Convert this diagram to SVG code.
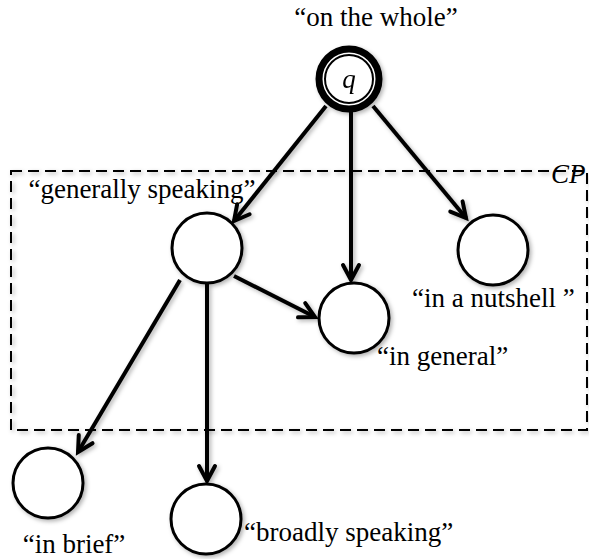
<svg xmlns="http://www.w3.org/2000/svg" width="589" height="559" viewBox="0 0 589 559">
  <style>
    text { font-family: 'Liberation Serif', 'Times New Roman', serif; }
    .lbl { font-size: 27px; fill: #000; }
    .node { fill: #fff; stroke: #000; stroke-width: 3; }
    .edge { fill: none; stroke: #000; stroke-width: 4; marker-end: url(#arrow); }
    .frame { fill: none; stroke: #000; stroke-width: 2; stroke-dasharray: 11 6; }
  </style>
  <defs>
    <filter id="shadow" x="-30%" y="-30%" width="160%" height="160%">
      <feDropShadow dx="2" dy="2" stdDeviation="2" flood-color="#000" flood-opacity="0.3"/>
    </filter>
    <marker id="arrow" markerUnits="userSpaceOnUse" markerWidth="30" markerHeight="30" viewBox="-20 -15 30 30" refX="0" refY="0" orient="auto">
      <path d="M -15 -8 L 0 0 L -15 8" fill="none" stroke="#000" stroke-width="4" stroke-linecap="round" stroke-linejoin="miter"/>
    </marker>
  </defs>

  <rect fill="#fff" x="0" y="0" width="589" height="559"/>

  <!-- dashed region CP -->
  <g id="region-cp" filter="url(#shadow)">
    <rect class="frame" x="11" y="171" width="576" height="259"/>
  </g>
  <text class="lbl" x="551" y="183" font-style="italic" font-size="28">CP</text>

  <!-- connectors -->
  <g id="edges" filter="url(#shadow)">
    <line class="edge" x1="326" y1="106" x2="234" y2="221"/>
    <line class="edge" x1="351" y1="112" x2="351" y2="280"/>
    <line class="edge" x1="373" y1="106" x2="466" y2="218"/>
    <line class="edge" x1="234" y1="276" x2="315" y2="317"/>
    <line class="edge" x1="180" y1="280" x2="78" y2="452"/>
    <line class="edge" x1="207" y1="284" x2="207" y2="481"/>
  </g>

  <!-- root node q -->
  <g id="node-q" filter="url(#shadow)">
    <circle cx="349" cy="79" r="30" fill="#fff" stroke="#000" stroke-width="7"/>
    <circle cx="349" cy="79" r="24" fill="#fff" stroke="#000" stroke-width="2"/>
    <text class="lbl" x="349" y="88" text-anchor="middle" font-style="italic" font-size="29">q</text>
  </g>
  <text class="lbl" x="376" y="26" text-anchor="middle">“on the whole”</text>

  <g id="node-generally" filter="url(#shadow)">
    <circle class="node" cx="207" cy="248" r="35"/>
  </g>
  <text class="lbl" x="142" y="198" text-anchor="middle">“generally speaking”</text>

  <g id="node-in-general" filter="url(#shadow)">
    <circle class="node" cx="354" cy="318" r="35"/>
  </g>
  <text class="lbl" x="377" y="365">“in general”</text>

  <g id="node-nutshell" filter="url(#shadow)">
    <circle class="node" cx="493" cy="250" r="35"/>
  </g>
  <text class="lbl" x="412" y="307">“in a nutshell ”</text>

  <g id="node-in-brief" filter="url(#shadow)">
    <circle class="node" cx="48" cy="483" r="35"/>
  </g>
  <text class="lbl" x="74" y="553" text-anchor="middle">“in brief”</text>

  <g id="node-broadly" filter="url(#shadow)">
    <circle class="node" cx="206" cy="519" r="35"/>
  </g>
  <text class="lbl" x="244" y="541">“broadly speaking”</text>
</svg>
